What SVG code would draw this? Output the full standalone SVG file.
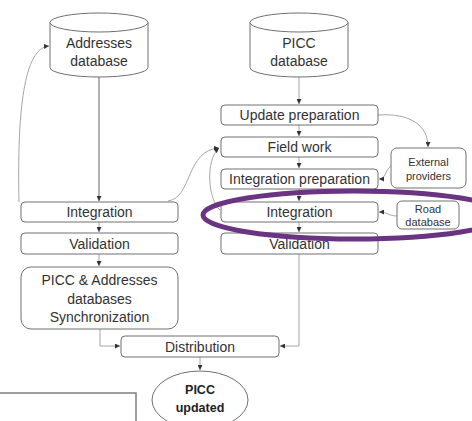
<svg xmlns="http://www.w3.org/2000/svg" width="472" height="421" viewBox="0 0 472 421">
<defs>
<marker id="ah" markerUnits="userSpaceOnUse" markerWidth="5" markerHeight="5" refX="5" refY="2.5" orient="auto">
<path d="M0,0 L5,2.5 L0,5 z" fill="#333"/>
</marker>
<style>
.box{fill:#fff;stroke:#707070;stroke-width:1}
.t{font-family:"Liberation Sans",Arial,sans-serif;font-size:14px;fill:#333;text-anchor:middle}
.s{font-family:"Liberation Sans",Arial,sans-serif;font-size:11px;fill:#333;text-anchor:middle}
.b{font-family:"Liberation Sans",Arial,sans-serif;font-size:12.5px;font-weight:bold;fill:#222;text-anchor:middle}
.c{fill:none;stroke:#a6a6a6;stroke-width:1;marker-end:url(#ah)}
.cd{fill:none;stroke:#666;stroke-width:1;marker-end:url(#ah)}
</style>
</defs>
<rect width="472" height="421" fill="#fff"/>

<g id="connectors">
<path class="cd" d="M99,77 V201"/>
<path class="c" d="M299,77 V104"/>
<path class="c" d="M299,125 V136"/>
<path class="c" d="M299,157 V168"/>
<path class="c" d="M299,189 V201"/>
<path class="c" d="M299,222 V232"/>
<path class="c" d="M299,254 V346 H280"/>
<path class="c" d="M99,222 V232"/>
<path class="c" d="M99,254 V266"/>
<path class="c" d="M100,329 V346 H120"/>
<path class="c" d="M200,357 V370"/>
<path class="c" d="M378,115 C410,113 428,125 428,147"/>
<path class="c" d="M391,166 C385,170 386,179 379,179"/>
<path class="c" d="M397,216 C388,216 388,212 379,212"/>
<path class="c" d="M19,202 C17,110 24,48 49,46"/>
<path class="c" d="M168,201 C192,198 186,150 219,148"/>
<path class="c" d="M220,210 C208,200 205,160 219,148"/>
</g>

<g id="addresses-db">
<path class="box" d="M50,22.5 V67.5 A49,9.5 0 0 0 148,67.5 V22.5"/>
<ellipse class="box" cx="99" cy="22.5" rx="49" ry="9.5"/>
<text class="t" x="99" y="48">Addresses</text>
<text class="t" x="99" y="66">database</text>
</g>

<g id="picc-db">
<path class="box" d="M250,22.5 V67.5 A49,9.5 0 0 0 348,67.5 V22.5"/>
<ellipse class="box" cx="299" cy="22.5" rx="49" ry="9.5"/>
<text class="t" x="299" y="48">PICC</text>
<text class="t" x="299" y="66">database</text>
</g>

<g id="update-preparation">
<rect class="box" x="221" y="105" width="157" height="20" rx="4"/>
<text class="t" x="299.5" y="120">Update preparation</text>
</g>

<g id="field-work">
<rect class="box" x="221" y="137" width="157" height="20" rx="4"/>
<text class="t" x="299.5" y="152">Field work</text>
</g>

<g id="integration-preparation">
<rect class="box" x="221" y="169" width="157" height="20" rx="4"/>
<text class="t" x="299.5" y="184">Integration preparation</text>
</g>

<g id="integration-right">
<rect class="box" x="221" y="202" width="157" height="20" rx="4"/>
<text class="t" x="299.5" y="217">Integration</text>
</g>

<g id="validation-right">
<rect class="box" x="221" y="233" width="157" height="21" rx="4"/>
<text class="t" x="299.5" y="248.5">Validation</text>
</g>

<g id="external-providers">
<rect class="box" x="391" y="148" width="75" height="40" rx="6"/>
<text class="s" x="428.5" y="166">External</text>
<text class="s" x="428.5" y="180">providers</text>
</g>

<g id="road-database">
<rect class="box" x="397" y="201" width="62" height="28" rx="5"/>
<text class="s" x="428" y="213">Road</text>
<text class="s" x="428" y="226">database</text>
</g>

<g id="integration-left">
<rect class="box" x="21" y="202" width="157" height="20" rx="4"/>
<text class="t" x="99.5" y="217">Integration</text>
</g>

<g id="validation-left">
<rect class="box" x="21" y="233" width="157" height="21" rx="4"/>
<text class="t" x="99.5" y="248.5">Validation</text>
</g>

<g id="synchronization">
<rect class="box" x="21" y="267" width="157" height="62" rx="10"/>
<text class="t" x="99.5" y="285">PICC &amp; Addresses</text>
<text class="t" x="99.5" y="304">databases</text>
<text class="t" x="99.5" y="322">Synchronization</text>
</g>

<g id="distribution">
<rect class="box" x="121" y="336" width="158" height="21" rx="4"/>
<text class="t" x="200" y="351.5">Distribution</text>
</g>

<g id="picc-updated">
<ellipse class="box" cx="200" cy="400" rx="48" ry="29"/>
<text class="b" x="200" y="394">PICC</text>
<text class="b" x="200" y="412">updated</text>
</g>

<g id="highlight">
<ellipse cx="354" cy="215" rx="151" ry="24" fill="none" stroke="#6a3483" stroke-width="5"/>
</g>

<g id="frame">
<path d="M0,393 H136 V421" fill="none" stroke="#7f7f7f" stroke-width="1.5"/>
</g>
</svg>
